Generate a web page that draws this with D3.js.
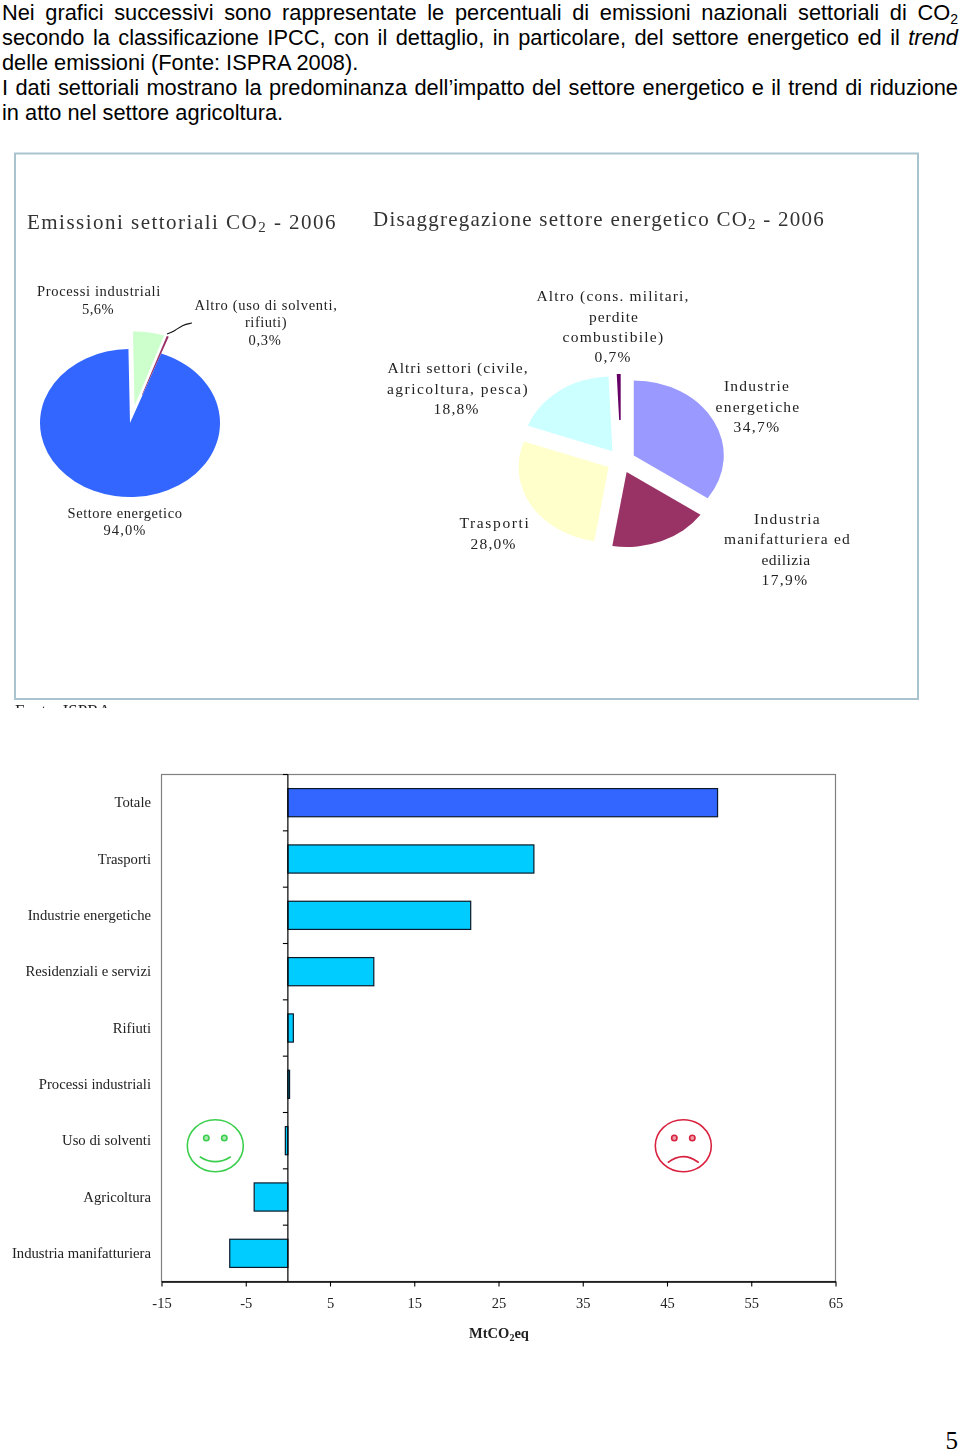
<!DOCTYPE html>
<html><head><meta charset="utf-8">
<script src="https://cdn.jsdelivr.net/npm/d3@7"></script>
<style>
html,body{margin:0;padding:0;background:#fff;width:960px;height:1455px;overflow:hidden}
svg{display:block}
.para{font-family:"Liberation Sans",Arial,sans-serif;font-size:21.8px;fill:#000}
.ser{font-family:"Liberation Serif","Times New Roman",serif}
</style></head><body>
<svg id="c" width="960" height="1455"></svg>
<script>
// ---- data ----
const pie1Names = ["Processi industriali","Altro (uso di solventi, rifiuti)","Settore energetico"];
const pie1Values = [5.6,0.3,94.0];
const pie1Colors = ["#CCFFCC","#993366","#3366FF"];
const pie2Names = ["Industrie energetiche","Industria manifatturiera ed edilizia","Trasporti","Altri settori (civile, agricoltura, pesca)","Altro (cons. militari, perdite combustibile)"];
const pie2Values = [34.7,17.9,28.0,18.8,0.7];
const pie2Colors = ["#9999FF","#993366","#FFFFCC","#CCFFFF","#660066"];
const barCategories = ["Totale","Trasporti","Industrie energetiche","Residenziali e servizi","Rifiuti","Processi industriali","Uso di solventi","Agricoltura","Industria manifatturiera"];
const barValues = [51.0,29.2,21.7,10.2,0.65,0.2,-0.3,-4.0,-6.9];
const xTickValues = [-15,-5,5,15,25,35,45,55,65];
const paragraph = [
 [["Nei grafici successivi sono rappresentate le percentuali di emissioni nazionali settoriali di CO"],["2","sub"]],
 [["secondo la classificazione IPCC, con il dettaglio, in particolare, del settore energetico ed il "],["trend","it"]],
 [["delle emissioni (Fonte: ISPRA 2008)."]],
 [["I dati settoriali mostrano la predominanza dell\u2019impatto del settore energetico e il trend di riduzione"]],
 [["in atto nel settore agricoltura."]]
];
const paragraphJustified = [true,true,false,true,false];

// ---- layout ----
const svg = d3.select("#c");
const para = svg.append("g");
paragraph.forEach((segs,i)=>{
  const t = para.append("text").attr("class","para").attr("x",2).attr("y",20+i*25);
  segs.forEach(s=>{
    const ts = t.append("tspan").text(s[0]);
    if(s[1]==="sub") ts.attr("dy",4).style("font-size","14px");
    if(s[1]==="it") ts.style("font-style","italic");
  });
  if(paragraphJustified[i]){
    const spaces = segs.map(s=>s[0]).join("").split(" ").length-1;
    const w = t.node().getComputedTextLength();
    t.style("word-spacing",((956-w)/spaces)+"px");
  }
});

const img = svg.append("g").style("filter","blur(0.45px)");

// frame
img.append("rect").attr("x",15).attr("y",153.5).attr("width",903).attr("height",545.5)
  .attr("fill","#fff").attr("stroke","#A9C3CF").attr("stroke-width",2);

svg.append("clipPath").attr("id","cut").append("rect").attr("x",0).attr("y",702).attr("width",960).attr("height",6);
img.append("g").attr("clip-path","url(#cut)").append("text").attr("class","ser")
  .attr("x",15).attr("y",716).style("font-size","17px").attr("fill","#222").text("Fonte: ISPRA");

function fit(sel,width){
  const w = sel.node().getComputedTextLength();
  const n = sel.text().length;
  sel.style("letter-spacing",((width-w)/n)+"px");
}
function lines(arr,size){
  arr.forEach(l=>{
    const t = img.append("text").attr("class","ser").attr("x",l[1]).attr("y",l[2])
      .attr("text-anchor","middle").style("font-size",size+"px").attr("fill","#222").text(l[0]);
    fit(t,l[3]);
  });
}
function title(parts,x,y,width){
  const t = img.append("text").attr("class","ser").attr("x",x).attr("y",y)
    .style("font-size","21px").attr("fill","#333");
  t.append("tspan").text(parts[0]);
  t.append("tspan").attr("dy",3).style("font-size","15px").text(parts[1]);
  t.append("tspan").attr("dy",-3).text(parts[2]);
  fit(t,width);
}
title(["Emissioni settoriali CO","2"," - 2006"],27,229,310);
title(["Disaggregazione settore energetico CO","2"," - 2006"],373,226,452);

// pies: drawn in circle space, squeezed to the ellipse of the original
function drawPie(values,colors,cx,cy,ratio,rot,outerR,offset,innerR){
  const a0 = rot*Math.PI/180;
  const pie = d3.pie().sort(null).value(d=>d).startAngle(a0).endAngle(2*Math.PI+a0)(values);
  const g = img.append("g").attr("transform",`translate(${cx},${cy}) scale(${ratio},1)`);
  const arc = d3.arc();
  g.selectAll("path").data(pie).join("path")
    .attr("fill",(d,i)=>colors[i])
    .attr("d",(d,i)=>arc({innerRadius:innerR(i),outerRadius:outerR(i),startAngle:d.startAngle,endAngle:d.endAngle}))
    .attr("transform",(d,i)=>{const o=offset(d,i);return `translate(${o[0]},${o[1]})`;});
}
const dir1 = 12*Math.PI/180;
drawPie(pie1Values,pie1Colors,130,423,90/74,-1,
  i=> i===1 ? 92 : 74,
  (d,i)=> i===0 ? [18*Math.sin(dir1),-18*Math.cos(dir1)] : [0,0],
  i=> i===1 ? 30 : 0);
drawPie(pie2Values,pie2Colors,621,461,1.2,0,
  i=>75,
  (d)=>{const m=(d.startAngle+d.endAngle)/2;return [12*Math.sin(m),-12*Math.cos(m)];},
  i=> i===4 ? 29 : 0);

// leader of the thin slice
img.append("path").attr("d",d3.line().curve(d3.curveBasis)(
   [[167,334],[175,331],[182,325],[192,323]]))
  .attr("fill","none").attr("stroke","#111").attr("stroke-width",1.1);

lines([
 ["Processi industriali",99,296,124],["5,6%",98,314,32],
 ["Altro (uso di solventi,",266,310,143],["rifiuti)",266,327,42],["0,3%",265,345,33],
 ["Settore energetico",125,518,115],["94,0%",125,535,43]
],14.5);
lines([
 ["Altro (cons. militari,",613,301,153],["perdite",614,322,50],["combustibile)",613.5,342,102],["0,7%",613,362,37],
 ["Altri settori (civile,",458,373,141],["agricoltura, pesca)",458,394,142],["18,8%",456.5,414,46],
 ["Industrie",757,390.5,66],["energetiche",758,412,85],["34,7%",757,432,47],
 ["Industria",787.5,524,67],["manifatturiera ed",787.5,544,127],["edilizia",786,565,49],["17,9%",785,585,47],
 ["Trasporti",495,528,71],["28,0%",493.5,549,46]
],15.5);

// bar chart
const x = d3.scaleLinear().domain([-15,65]).range([161.5,835.5]);
const y = d3.scaleBand().domain(barCategories).range([774.5,1281.5]).paddingInner(0.5).paddingOuter(0.25);
const step = y.step();

img.append("rect").attr("x",x(-15)).attr("y",y.range()[0]).attr("width",x(65)-x(-15)).attr("height",y.range()[1]-y.range()[0])
  .attr("fill","#fff").attr("stroke","#808080").attr("stroke-width",1.2);

img.selectAll("rect.bar").data(barValues).join("rect").attr("class","bar")
  .attr("x",d=>x(Math.min(0,d))).attr("width",d=>Math.abs(x(d)-x(0)))
  .attr("y",(d,i)=>y(barCategories[i])).attr("height",y.bandwidth())
  .attr("fill",(d,i)=>i===0?"#3366FF":"#00CCFF")
  .attr("stroke","#0a1a2a").attr("stroke-width",1.2);

// zero line with ticks at the category boundaries
const bounds = d3.range(barCategories.length);
img.append("line").attr("x1",x(0)).attr("x2",x(0)).attr("y1",y.range()[0]).attr("y2",y.range()[1])
  .attr("stroke","#000").attr("stroke-width",1.2);
img.selectAll("line.bt").data(bounds).join("line").attr("class","bt")
  .attr("x1",x(0)-5).attr("x2",x(0))
  .attr("y1",d=>y.range()[0]+d*step).attr("y2",d=>y.range()[0]+d*step)
  .attr("stroke","#000").attr("stroke-width",1.1);

const yAxis = img.append("g").attr("transform",`translate(${x(-15)},0)`)
  .call(d3.axisLeft(y).tickSize(0).tickPadding(10.5));
yAxis.select(".domain").remove();
yAxis.selectAll("text").attr("class","ser").style("font-size","14.7px").attr("fill","#222").attr("font-family",null);

const xAxis = img.append("g").attr("transform",`translate(0,${y.range()[1]})`)
  .call(d3.axisBottom(x).tickValues(xTickValues).tickFormat(d3.format("d")).tickSize(5).tickSizeOuter(0).tickPadding(11));
xAxis.select(".domain").attr("stroke","#000").attr("stroke-width",1.3);
xAxis.selectAll("line").attr("stroke","#000").attr("stroke-width",1.1);
xAxis.selectAll("text").attr("class","ser").style("font-size","14.5px").attr("fill","#222").attr("font-family",null)
  .text(d=>String(d));

const xt = img.append("text").attr("class","ser").attr("x",499).attr("y",1338).attr("text-anchor","middle")
  .style("font-size","14.5px").style("font-weight","bold").attr("fill","#222");
xt.append("tspan").text("MtCO");
xt.append("tspan").attr("dy",3).style("font-size","10px").text("2");
xt.append("tspan").attr("dy",-3).text("eq");

// smileys
function face(cx,cy,color,mouth){
  const g = img.append("g").attr("fill","none").attr("stroke",color);
  g.append("ellipse").attr("cx",cx).attr("cy",cy).attr("rx",28).attr("ry",26).attr("stroke-width",1.6);
  [-9,9].forEach(dx=>g.append("circle").attr("cx",cx+dx).attr("cy",cy-7.7).attr("r",2.7).attr("stroke-width",1.6)
     .attr("fill",color).attr("fill-opacity",0.45));
  g.append("path").attr("d",`M${cx-15.5},${cy+mouth[0]} Q${cx},${cy+mouth[1]} ${cx+15.5},${cy+mouth[0]}`).attr("stroke-width",1.7);
}
face(215.3,1145.7,"#3CCF4E",[11,21]);
face(683.3,1145.7,"#D9223F",[17,5]);

// page number
svg.append("text").attr("class","ser").attr("x",958).attr("y",1449).attr("text-anchor","end")
  .style("font-size","25px").attr("fill","#000").text("5");
</script></body></html>
